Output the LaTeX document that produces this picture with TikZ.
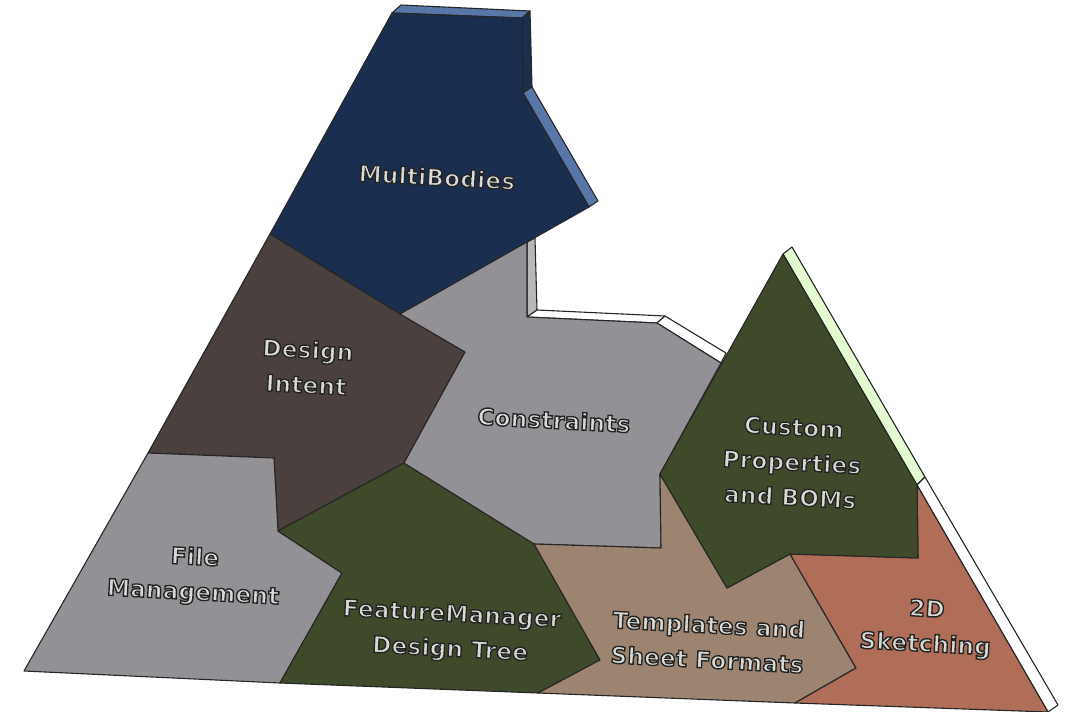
\documentclass[tikz,border=0pt]{standalone}
\usepackage{fontspec}
\newfontfamily\lblfont{DejaVu Sans Bold}[LetterSpace=1.5,FakeBold=6]
\definecolor{navy}{HTML}{1A2F50}
\definecolor{navyside}{HTML}{5876A8}
\definecolor{brownface}{HTML}{4A403D}
\definecolor{grayface}{HTML}{949196}
\definecolor{greenface}{HTML}{3E4A2A}
\definecolor{tanface}{HTML}{9C8470}
\definecolor{clayface}{HTML}{B06E58}
\definecolor{limeside}{HTML}{E4FAD0}
\newcommand{\strkon}{\special{pdf:bcolor [0.85 0.85 0.84] [0.14 0.14 0.14]}}
\newcommand{\strkoff}{\special{pdf:ecolor}}
\tikzset{
  face/.style={draw=black!85,line width=1.1pt,line join=round},
  lbl/.style={align=center,rotate=-3,inner sep=0pt,
    font=\fontsize{23}{35}\lblfont,execute at begin node=\strkon,execute at end node=\strkoff},
}
\begin{document}
\begin{tikzpicture}[x=1pt,y=-1pt]
\useasboundingbox (0,0) rectangle (1072,712);
% side faces
\path[face,fill=navyside] (392,13)--(401,5)--(530,11)--(522,18)--cycle;
\path[face,fill=navy] (522,18)--(530,11)--(532,87)--(523,93)--cycle;
\path[face,fill=navyside] (523,93)--(532,87)--(598,201)--(589,207)--cycle;
\path[face,fill=grayface!65!white] (527,242)--(535,238)--(537,310)--(527,317)--cycle;
\path[face,fill=white] (527,317)--(537,310)--(665,316)--(657,323)--cycle;
\path[face,fill=white] (657,323)--(665,316)--(726,353)--(721,363)--cycle;
\path[face,fill=limeside] (783,254)--(792,247)--(925,477)--(917,485)--cycle;
\path[face,fill=white] (917,485)--(925,477)--(1058,705)--(1048,712)--cycle;
% front faces
\path[face,fill=navy] (392,13)--(522,18)--(523,93)--(589,207)--(400,314)--(270,234)--cycle;
\path[face,fill=brownface] (270,234)--(400,314)--(465,352)--(404,463)--(278,531)--(274,458)--(148,453)--cycle;
\path[face,fill=grayface] (148,453)--(274,458)--(278,531)--(342,573)--(280,683)--(24,671)--cycle;
\path[face,fill=greenface] (278,531)--(404,463)--(534,544)--(600,660)--(538,693)--(280,683)--(342,573)--cycle;
\path[face,fill=grayface] (400,314)--(527,242)--(527,317)--(657,323)--(721,363)--(660,474)--(661,548)--(534,544)--(404,463)--(465,352)--cycle;
\path[face,fill=tanface] (534,544)--(661,548)--(660,474)--(727,588)--(790,554)--(856,668)--(795,703)--(538,693)--(600,660)--cycle;
\path[face,fill=clayface] (917,485)--(918,558)--(790,554)--(856,668)--(795,703)--(1048,712)--cycle;
\path[face,fill=greenface] (783,254)--(917,485)--(918,558)--(790,554)--(727,588)--(660,474)--cycle;
% labels
\node[lbl] (multi) at (437,177) {MultiBodies};
\node[lbl] (intent) at (307,367) {Design\\Intent};
\node[lbl] (constr) at (554,420) {Constraints};
\node[lbl] (custom) at (792,462) {Custom\\Properties\\and BOMs};
\node[lbl] (file) at (194,576) {File\\Management};
\node[lbl] (fmtree) at (451,633) {FeatureManager\\Design Tree};
\node[lbl] (templ) at (708,642) {Templates and\\Sheet Formats};
\node[lbl] (sketch) at (926,628) {2D\\Sketching};
\end{tikzpicture}
\end{document}
